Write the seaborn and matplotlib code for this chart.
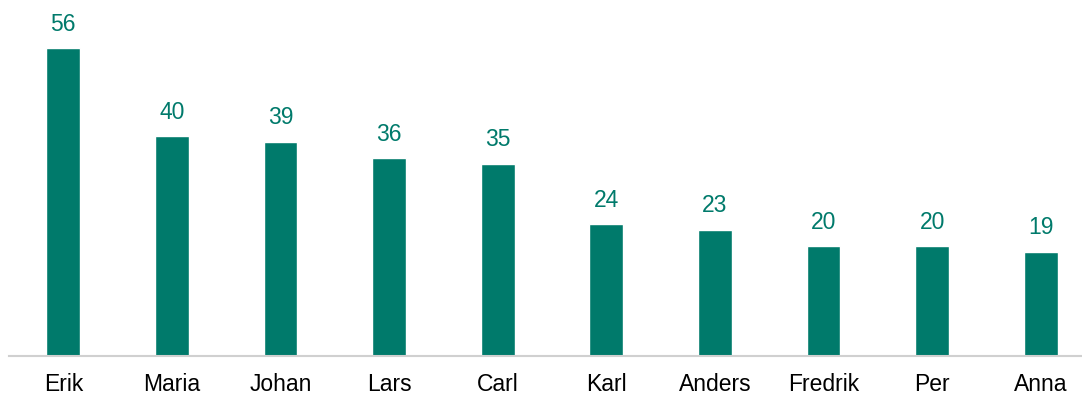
import matplotlib
matplotlib.use("Agg")
import matplotlib.pyplot as plt
import seaborn as sns
import pandas as pd

names = ["Erik", "Maria", "Johan", "Lars", "Carl", "Karl", "Anders", "Fredrik", "Per", "Anna"]
counts = [56, 40, 39, 36, 35, 24, 23, 20, 20, 19]

sns.set_theme(style="white")
plt.rcParams["font.family"] = ["Liberation Sans", "DejaVu Sans"]

teal = "#007A6B"
df = pd.DataFrame({"name": names, "count": counts})

fig = plt.figure(figsize=(10.82, 3.94), dpi=100)
ax = fig.add_axes([9 / 1082, 1 - 356 / 394, 1 - 9 / 1082, 356 / 394])

sns.barplot(data=df, x="name", y="count", color=teal, width=0.31, saturation=1, ax=ax)

ax.set_xlim(-0.5, 9.38)
ax.set_ylim(0, 64.8)
ax.set_xlabel("")
ax.set_ylabel("")
ax.set_yticks([])
for side in ["top", "left", "right"]:
    ax.spines[side].set_visible(False)
ax.spines["bottom"].set_color("#D0D0D0")
ax.spines["bottom"].set_linewidth(1.5)
ax.tick_params(axis="x", length=0, pad=12, labelsize=16.5, labelcolor="#000000")

for container in ax.containers:
    ax.bar_label(container, labels=[str(v) for v in counts], padding=9,
                 fontsize=16.5, color=teal)

fig.savefig("out.png", dpi=100)
